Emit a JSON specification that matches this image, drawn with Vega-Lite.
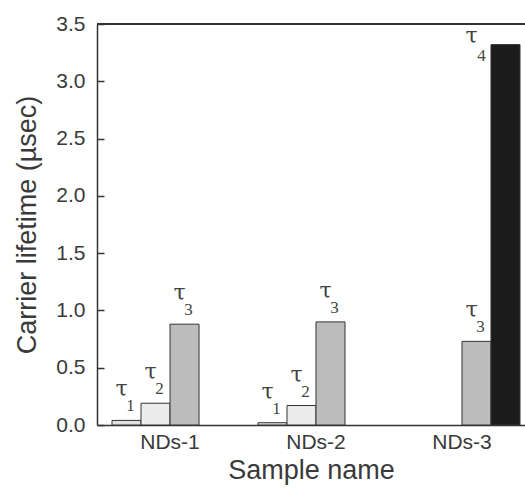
{
  "$schema": "https://vega.github.io/schema/vega-lite/v6.json",
  "width": 428,
  "height": 401,
  "autosize": {"type": "none"},
  "padding": {"left": 97, "top": 24, "right": 0, "bottom": 64},
  "background": "white",
  "config": {
    "view": {"stroke": null},
    "font": "Liberation Sans",
    "axis": {"grid": false, "domainColor": "#333", "domainWidth": 1.5, "tickColor": "#333", "labelColor": "#3a3a3a", "titleColor": "#3a3a3a", "labelFont": "Liberation Sans", "titleFont": "Liberation Sans", "titleFontWeight": "normal"}
  },
  "data": {
    "values": [
      {"sample": "NDs-1", "series": "τ1", "sub": "1", "value": 0.04},
      {"sample": "NDs-1", "series": "τ2", "sub": "2", "value": 0.19},
      {"sample": "NDs-1", "series": "τ3", "sub": "3", "value": 0.88},
      {"sample": "NDs-2", "series": "τ1", "sub": "1", "value": 0.02},
      {"sample": "NDs-2", "series": "τ2", "sub": "2", "value": 0.17},
      {"sample": "NDs-2", "series": "τ3", "sub": "3", "value": 0.90},
      {"sample": "NDs-3", "series": "τ3", "sub": "3", "value": 0.73},
      {"sample": "NDs-3", "series": "τ4", "sub": "4", "value": 3.32}
    ]
  },
  "encoding": {
    "x": {
      "field": "sample", "type": "nominal",
      "scale": {"paddingInner": 0.205, "paddingOuter": 0.0685, "align": 0.75},
      "axis": {"title": "Sample name", "labelAngle": 0, "ticks": false, "labelFontSize": 21, "labelPadding": 6, "titleFontSize": 27, "titlePadding": 5}
    },
    "xOffset": {"field": "series", "type": "nominal", "scale": {"domain": ["τ1", "τ2", "τ3", "τ4"], "paddingInner": 0, "paddingOuter": 0}},
    "y": {
      "field": "value", "type": "quantitative",
      "scale": {"domain": [0, 3.5], "nice": false, "zero": true},
      "axis": {"title": "Carrier lifetime (µsec)", "values": [0, 0.5, 1, 1.5, 2, 2.5, 3, 3.5], "format": ".1f", "tickSize": -7, "tickWidth": 1.5, "labelPadding": 19, "labelFontSize": 21, "titleFontSize": 27, "titlePadding": 14}
    }
  },
  "layer": [
    {
      "mark": {"type": "bar", "stroke": "#333", "strokeWidth": 1},
      "encoding": {
        "color": {"field": "series", "type": "nominal", "legend": null,
          "scale": {"domain": ["τ1", "τ2", "τ3", "τ4"], "range": ["#e0e0e0", "#ececec", "#bcbcbc", "#1c1c1c"]}}
      }
    },
    {
      "transform": [{"filter": "datum.series !== 'τ4'"}],
      "mark": {"type": "text", "text": "τ", "font": "DejaVu Serif", "fontSize": 22, "color": "#444", "baseline": "middle", "dx": -5, "dy": -31}
    },
    {
      "transform": [{"filter": "datum.series !== 'τ4'"}],
      "mark": {"type": "text", "font": "Liberation Serif", "fontSize": 17, "color": "#444", "baseline": "middle", "dx": 4, "dy": -14}
      ,
      "encoding": {"text": {"field": "sub"}}
    },
    {
      "transform": [{"filter": "datum.series === 'τ4'"}],
      "mark": {"type": "text", "text": "τ", "font": "DejaVu Serif", "fontSize": 22, "color": "#444", "baseline": "middle", "dx": -34, "dy": -9}
    },
    {
      "transform": [{"filter": "datum.series === 'τ4'"}],
      "mark": {"type": "text", "font": "Liberation Serif", "fontSize": 17, "color": "#444", "baseline": "middle", "dx": -24, "dy": 11},
      "encoding": {"text": {"field": "sub"}}
    },
    {
      "mark": {"type": "rule", "color": "#333", "strokeWidth": 1.5},
      "encoding": {"y": {"datum": 3.5}, "x": null, "xOffset": null}
    }
  ]
}
